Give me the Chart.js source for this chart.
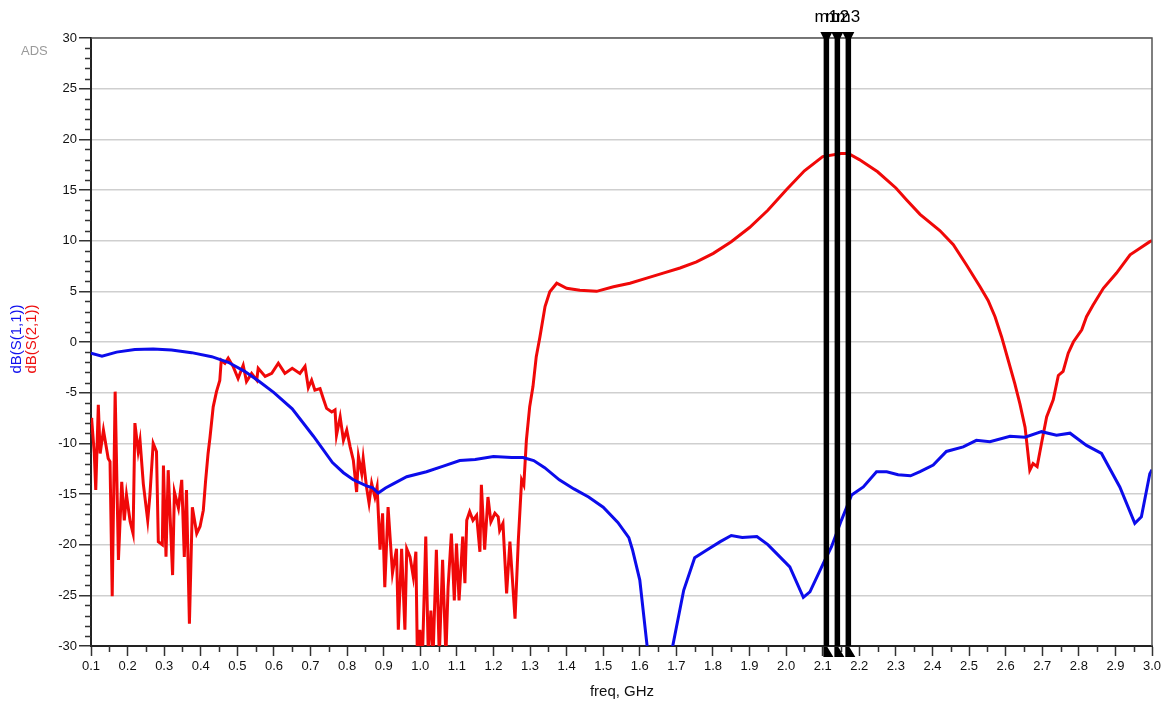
<!DOCTYPE html>
<html>
<head>
<meta charset="utf-8">
<script src="https://cdn.jsdelivr.net/npm/chart.js@4.4.1/dist/chart.umd.min.js"></script>
<style>
  html, body { margin: 0; padding: 0; background: #fff; }
  canvas { display: block; }
</style>
</head>
<body>
<canvas id="plot" width="1167" height="706"></canvas>
<script>
/* data */
const s11Freq = [0.10, 0.13, 0.17, 0.22, 0.27, 0.32, 0.375, 0.43, 0.475, 0.52, 0.56, 0.60, 0.65, 0.708, 0.76, 0.79,
  0.817, 0.853, 0.87, 0.885, 0.905, 0.926, 0.963, 1.017, 1.063, 1.108, 1.15, 1.20, 1.25, 1.281, 1.31, 1.34,
  1.38, 1.42, 1.46, 1.50, 1.54, 1.57, 1.58, 1.60, 1.62, 1.64, 1.66, 1.68, 1.69, 1.72, 1.75, 1.78, 1.82, 1.85,
  1.88, 1.92, 1.95, 1.983, 2.01, 2.047, 2.065, 2.101, 2.124, 2.151, 2.179, 2.211, 2.247, 2.275, 2.306, 2.34,
  2.366, 2.402, 2.438, 2.484, 2.52, 2.557, 2.612, 2.653, 2.698, 2.739, 2.776, 2.821, 2.862, 2.912, 2.953,
  2.971, 2.994, 3.00];
const s11Db = [-1.1, -1.4, -1.0, -0.75, -0.7, -0.8, -1.05, -1.45, -2.0, -2.9, -3.9, -5.0, -6.6, -9.3, -11.9, -12.9,
  -13.6, -14.2, -14.4, -14.9, -14.4, -14.0, -13.3, -12.8, -12.25, -11.7, -11.6, -11.3, -11.4, -11.4, -11.7, -12.4,
  -13.6, -14.5, -15.3, -16.3, -17.8, -19.3, -20.5, -23.5, -30.0, -34, -35, -33, -30.0, -24.5, -21.3, -20.6, -19.7, -19.1,
  -19.3, -19.2, -20.0, -21.2, -22.2, -25.2, -24.65, -21.9, -20.2, -17.6, -15.1, -14.3, -12.8, -12.8, -13.1, -13.2,
  -12.8, -12.15, -10.8, -10.35, -9.7, -9.85, -9.3, -9.4, -8.85, -9.2, -9.0, -10.2, -11.0, -14.3, -17.9,
  -17.25, -13.0, -12.6];

const s21Freq = [0.100, 0.102, 0.109, 0.113, 0.120, 0.125, 0.134, 0.147, 0.152, 0.158, 0.166, 0.175, 0.184, 0.191,
  0.197, 0.207, 0.215, 0.220, 0.229, 0.234, 0.243, 0.255, 0.261, 0.270, 0.279, 0.284, 0.295, 0.298, 0.305, 0.311,
  0.323, 0.328, 0.339, 0.348, 0.355, 0.361, 0.369, 0.377, 0.389, 0.398, 0.407, 0.413, 0.420, 0.425, 0.434, 0.443,
  0.452, 0.456, 0.466, 0.475, 0.489, 0.502, 0.516, 0.525, 0.539, 0.553, 0.557, 0.576, 0.594, 0.612, 0.630, 0.650,
  0.671, 0.685, 0.694, 0.703, 0.712, 0.726, 0.735, 0.744, 0.758, 0.767, 0.771, 0.781, 0.790, 0.799, 0.808, 0.817,
  0.826, 0.831, 0.840, 0.844, 0.853, 0.860, 0.867, 0.876, 0.882, 0.890, 0.897, 0.903, 0.912, 0.924, 0.935, 0.940,
  0.949, 0.958, 0.963, 0.972, 0.981, 0.988, 0.992, 0.999, 1.006, 1.015, 1.022, 1.029, 1.035, 1.044, 1.052, 1.061,
  1.070, 1.076, 1.085, 1.093, 1.099, 1.106, 1.116, 1.122, 1.127, 1.135, 1.144, 1.154, 1.163, 1.167, 1.176, 1.185,
  1.193, 1.204, 1.213, 1.217, 1.226, 1.236, 1.245, 1.259, 1.268, 1.277, 1.283, 1.290, 1.299, 1.308, 1.317, 1.327,
  1.341, 1.354, 1.373, 1.400, 1.436, 1.482, 1.528, 1.573, 1.619, 1.664, 1.710, 1.755, 1.801, 1.850, 1.900, 1.950,
  2.000, 2.050, 2.100, 2.150, 2.170, 2.200, 2.250, 2.300, 2.330, 2.366, 2.420, 2.457, 2.493, 2.530, 2.552, 2.571,
  2.589, 2.607, 2.625, 2.639, 2.653, 2.659, 2.666, 2.675, 2.686, 2.698, 2.712, 2.730, 2.744, 2.757, 2.771, 2.785,
  2.808, 2.821, 2.839, 2.867, 2.903, 2.940, 2.967, 2.994, 3.000];
const s21Db = [-7.5, -7.7, -11.0, -14.6, -6.2, -11.0, -8.7, -11.5, -11.8, -25.1, -4.9, -21.5, -13.8, -17.6,
  -15.1, -17.7, -18.9, -8.0, -10.8, -9.7, -14.0, -17.6, -15.1, -10.0, -10.8, -19.7, -20.0, -12.2, -21.2, -12.65,
  -23.0, -14.8, -16.4, -13.6, -21.2, -14.6, -27.8, -16.3, -18.9, -18.2, -16.6, -13.8, -11.0, -9.5, -6.4, -4.9,
  -3.8, -1.8, -2.1, -1.6, -2.45, -3.6, -2.3, -3.9, -3.1, -3.76, -2.6, -3.4, -3.1, -2.1, -3.1, -2.6,
  -3.1, -2.4, -4.5, -3.76, -4.75, -4.6, -5.6, -6.55, -6.9, -6.7, -9.2, -7.4, -9.7, -8.7, -10.3, -11.66,
  -14.8, -11.3, -13.0, -11.5, -14.3, -15.9, -13.95, -15.3, -14.3, -20.5, -16.9, -24.2, -16.3, -22.8, -20.4, -28.4,
  -20.4, -28.4, -20.4, -21.2, -23.2, -20.7, -31, -28.4, -31, -19.2, -31, -26.5, -31, -20.5, -31, -21.5,
  -31, -24.2, -18.9, -25.5, -19.9, -25.5, -19.2, -23.8, -17.6, -16.75, -17.6, -17.1, -20.7, -14.1, -20.5, -15.3,
  -17.75, -16.9, -17.25, -18.6, -17.9, -24.8, -19.7, -27.3, -19.55, -13.6, -14.1, -9.7, -6.4, -4.4, -1.45, 0.5,
  3.5, 4.96, 5.8, 5.3, 5.1, 5.0, 5.45, 5.8, 6.3, 6.8, 7.3, 7.9, 8.75, 9.9, 11.3, 13.0,
  15.0, 16.9, 18.3, 18.6, 18.6, 18.0, 16.8, 15.2, 14.0, 12.6, 11.0, 9.6, 7.6, 5.45, 4.1, 2.5,
  0.5, -1.8, -4.1, -6.1, -8.4, -10.35, -12.65, -12.0, -12.3, -10.0, -7.4, -5.7, -3.3, -2.9, -1.1, 0.0,
  1.2, 2.5, 3.65, 5.3, 6.8, 8.6, 9.25, 9.9, 10.0];

const markerFreq = [2.11, 2.14, 2.17];
const markerLabels = ["m1", "m2", "m3"];

const xTicks = [0.1, 0.2, 0.3, 0.4, 0.5, 0.6, 0.7, 0.8, 0.9, 1.0, 1.1, 1.2, 1.3, 1.4, 1.5, 1.6, 1.7, 1.8, 1.9, 2.0,
  2.1, 2.2, 2.3, 2.4, 2.5, 2.6, 2.7, 2.8, 2.9, 3.0];
const yTicks = [-30, -25, -20, -15, -10, -5, 0, 5, 10, 15, 20, 25, 30];

const FONT = "'Liberation Sans', Arial, sans-serif";

const zip = (xs, ys) => xs.map((x, i) => ({ x, y: ys[i] }));

// frame, minor ticks, marker heads and the free texts
const decor = {
  id: "decor",
  beforeDraw(chart) {
    const { ctx, width, height } = chart;
    ctx.save();
    ctx.fillStyle = "#fff";
    ctx.fillRect(0, 0, width, height);
    ctx.restore();
  },
  afterDraw(chart) {
    const {
      ctx,
      chartArea: { left, right, top, bottom },
      scales: { x, y },
    } = chart;
    ctx.save();

    // top / right frame
    ctx.strokeStyle = "#555";
    ctx.lineWidth = 1.5;
    ctx.beginPath();
    ctx.moveTo(left, top);
    ctx.lineTo(right, top);
    ctx.lineTo(right, bottom);
    ctx.stroke();

    // minor ticks
    ctx.strokeStyle = "#333";
    ctx.lineWidth = 1.5;
    ctx.beginPath();
    for (let v = -29; v < 30; v++) {
      if (v % 5 === 0) continue;
      const py = Math.round(y.getPixelForValue(v)) + 0.5;
      ctx.moveTo(left - 6, py);
      ctx.lineTo(left, py);
    }
    for (let i = 0; i < xTicks.length - 1; i++) {
      const px = Math.round(x.getPixelForValue(xTicks[i] + 0.05)) + 0.5;
      ctx.moveTo(px, bottom);
      ctx.lineTo(px, bottom + 6);
    }
    ctx.stroke();

    // marker heads and names
    ctx.fillStyle = "#000";
    markerFreq.forEach((f) => {
      const px = x.getPixelForValue(f);
      ctx.beginPath();
      ctx.moveTo(px - 6, top - 6);
      ctx.lineTo(px + 6, top - 6);
      ctx.lineTo(px, top + 6);
      ctx.closePath();
      ctx.fill();
      ctx.beginPath();
      ctx.moveTo(px - 3, bottom + 11);
      ctx.lineTo(px + 7, bottom + 11);
      ctx.lineTo(px + 1, bottom + 1);
      ctx.lineTo(px - 3, bottom + 1);
      ctx.closePath();
      ctx.fill();
    });
    ctx.font = "17px " + FONT;
    ctx.textAlign = "center";
    ctx.textBaseline = "alphabetic";
    markerFreq.forEach((f, i) => {
      ctx.fillText(markerLabels[i], x.getPixelForValue(f), top - 16);
    });

    // ADS tag
    ctx.fillStyle = "#9a9a9a";
    ctx.font = "13px " + FONT;
    ctx.textAlign = "left";
    ctx.textBaseline = "middle";
    ctx.fillText("ADS", 21, 51);

    // x title
    ctx.fillStyle = "#111";
    ctx.font = "15px " + FONT;
    ctx.textAlign = "center";
    ctx.fillText("freq, GHz", 622, 692);

    // y titles
    ctx.translate(0, 339);
    ctx.rotate(-Math.PI / 2);
    ctx.font = "15px " + FONT;
    ctx.fillStyle = "#1010ee";
    ctx.fillText("dB(S(1,1))", 0, 17);
    ctx.fillStyle = "#ee1010";
    ctx.fillText("dB(S(2,1))", 0, 32);

    ctx.restore();
  },
};

const markerSets = markerFreq.map((f) => ({
  label: "marker",
  data: [{ x: f, y: 30 }, { x: f, y: -30 }],
  borderColor: "#000",
  borderWidth: 5.5,
  pointRadius: 0,
  clip: false,
}));

new Chart(document.getElementById("plot"), {
  type: "line",
  data: {
    datasets: [
      ...markerSets,
      {
        label: "dB(S(1,1))",
        data: zip(s11Freq, s11Db),
        borderColor: "rgb(12,12,235)",
        borderWidth: 3,
        pointRadius: 0,
        tension: 0,
      },
      {
        label: "dB(S(2,1))",
        data: zip(s21Freq, s21Db),
        borderColor: "rgb(240,8,8)",
        borderWidth: 3,
        pointRadius: 0,
        tension: 0,
      },
    ],
  },
  options: {
    responsive: false,
    animation: false,
    devicePixelRatio: 1,
    layout: { padding: { top: 38, right: 15, left: 0, bottom: 0 } },
    plugins: {
      legend: { display: false },
      tooltip: { enabled: false },
    },
    scales: {
      x: {
        type: "linear",
        min: 0.1,
        max: 3.0,
        afterBuildTicks: (s) => {
          s.ticks = xTicks.map((v) => ({ value: v }));
        },
        afterFit: (s) => {
          s.height = 60;
        },
        grid: {
          drawOnChartArea: false,
          drawTicks: true,
          tickLength: 10,
          tickColor: "#333",
          tickWidth: 1.5,
        },
        border: { display: true, color: "#222", width: 2 },
        ticks: {
          autoSkip: false,
          maxRotation: 0,
          padding: 3,
          color: "#111",
          font: { family: FONT, size: 13 },
          callback: (v) => Number(v).toFixed(1),
        },
      },
      y: {
        min: -30,
        max: 30,
        afterBuildTicks: (s) => {
          s.ticks = yTicks.map((v) => ({ value: v }));
        },
        afterFit: (s) => {
          s.width = 91;
        },
        grid: {
          color: "#cfcfcf",
          lineWidth: 1.5,
          tickLength: 12,
          tickColor: "#333",
          tickWidth: 1.5,
        },
        border: { display: true, color: "#222", width: 2 },
        ticks: {
          padding: 2,
          color: "#111",
          font: { family: FONT, size: 13 },
        },
      },
    },
  },
  plugins: [decor],
});
</script>
</body>
</html>
